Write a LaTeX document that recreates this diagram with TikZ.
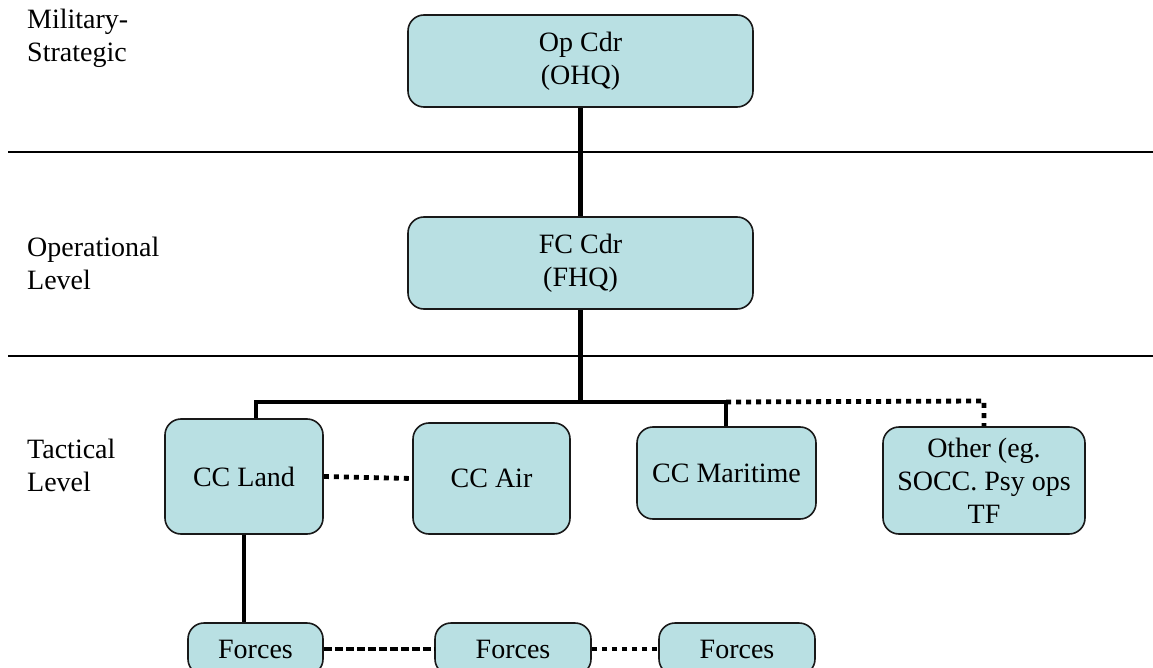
\documentclass[tikz,border=0pt]{standalone}
\usepackage{fontspec}
\setmainfont{Liberation Serif}
\definecolor{boxblue}{RGB}{185,224,227}
\begin{document}
\begin{tikzpicture}[x=1pt,y=-1pt,
  box/.style={draw=black!90, line width=1.6pt, rounded corners=16pt, fill=boxblue,
    align=center, inner sep=0pt, font=\fontsize{28}{33}\selectfont},
  lvl/.style={anchor=west, align=left, inner sep=0pt, font=\fontsize{28}{33}\selectfont},
  conn/.style={line width=4.8pt},
  dotc/.style={line width=4.8pt, dash pattern=on 5pt off 5pt},
  dotd/.style={line width=4.8pt, dash pattern=on 8pt off 3pt},
  sep/.style={line width=1.3pt}]
\useasboundingbox (0,0) rectangle (1153,668);

% level labels
\node[lvl] (lms) at (27,38) {Military-\\Strategic};
\node[lvl] (lop) at (27,263) {Operational\\Level};
\node[lvl] (lta) at (27,465) {Tactical\\Level};

% separators
\coordinate (s1a) at (8,152); \coordinate (s1b) at (1153,152);
\coordinate (s2a) at (8,356); \coordinate (s2b) at (1153,356);
\draw[sep] (s1a) -- (s1b);
\draw[sep] (s2a) -- (s2b);

% boxes
\node[box, minimum width=345pt, minimum height=92pt] (ohq) at (580.5,61) {Op Cdr\\(OHQ)};
\node[box, minimum width=345pt, minimum height=92pt] (fhq) at (580.5,263) {FC Cdr\\(FHQ)};
\node[box, minimum width=158pt, minimum height=115pt] (land) at (244,476.5) {CC Land};
\node[box, minimum width=157pt, minimum height=111pt] (air) at (491.5,478.5) {CC Air};
\node[box, minimum width=179pt, minimum height=92pt] (mar) at (726.5,473) {CC Maritime};
\node[box, minimum width=202pt, minimum height=107pt] (oth) at (984,480.5) {Other (eg.\\SOCC. Psy ops\\TF};
\node[box, minimum width=135pt, minimum height=52pt] (f1) at (255.5,649) {Forces};
\node[box, minimum width=156pt, minimum height=52pt] (f2) at (513,649) {Forces};
\node[box, minimum width=156pt, minimum height=52pt] (f3) at (737,649) {Forces};

% connectors
\coordinate (j) at (580.5,402);
\coordinate (jl) at (256,402);
\coordinate (jm) at (726,402);
\coordinate (jo) at (984,401);
\draw[conn] (ohq.south) -- (fhq.north);
\draw[conn] (fhq.south) -- (j);
\draw[conn] (land.north -| jl) -- (jl) -- (jm) -- (mar.north -| jm);
\draw[dotc] (jm) -- (jo) -- (oth.north);
\draw[dotc] (land.east) -- (air.west);
\draw[conn] (land.south) -- (f1.north -| land.south);
\draw[dotd] (f1.east) -- (f2.west);
\draw[dotc] (f2.east) -- (f3.west);
\end{tikzpicture}
\end{document}
